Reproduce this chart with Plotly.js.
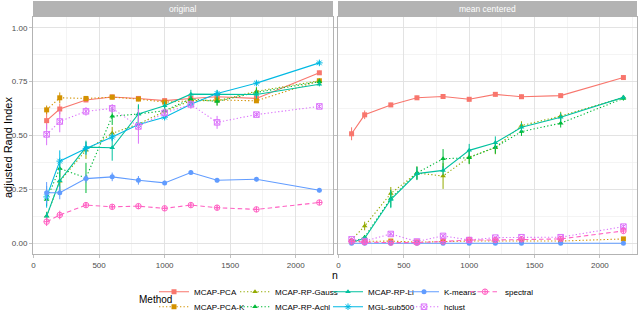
<!DOCTYPE html>
<html><head><meta charset="utf-8">
<script src="https://cdn.plot.ly/plotly-3.0.1.min.js"></script>
<style>html,body{margin:0;padding:0;background:#fff}#chart{width:640px;height:311px}</style>
</head><body><div id="chart"></div>
<script>
// ---- data ----
const n = [100, 200, 400, 600, 800, 1000, 1200, 1400, 1700, 2180];
const methods = ["MCAP-PCA","MCAP-PCA-K","MCAP-RP-Gauss","MCAP-RP-Achl","MCAP-RP-Li","MGL-sub500","K-means","hclust","spectral"];
const panels = ["original","mean centered"];

// original
const origPCA    = [0.569,0.623,0.665,0.679,0.672,0.662,0.672,0.680,0.672,0.791];
const origPCAK   = [0.619,0.675,0.672,0.678,0.669,0.655,0.661,0.665,0.661,0.754];
const origGauss  = [0.126,0.288,0.431,0.510,0.553,0.612,0.662,0.661,0.705,0.754];
const origAchl   = [0.203,0.347,0.303,0.589,0.600,0.615,0.670,0.658,0.700,0.750];
const origLi     = [0.125,0.290,0.446,0.443,0.600,0.638,0.692,0.692,0.690,0.738];
const origMGL    = [0.215,0.381,0.440,0.493,0.551,0.585,0.645,0.695,0.743,0.837];
const origKmeans = [0.234,0.234,0.300,0.308,0.292,0.280,0.328,0.292,0.297,0.246];
const origHclust = [0.505,0.565,0.612,0.626,0.542,0.605,0.644,0.561,0.597,0.635];
const origSpec   = [0.100,0.131,0.177,0.169,0.172,0.162,0.177,0.165,0.157,0.189];

const origPCAErr    = [0.04,0.025,0.01,0.01,0.01,0.01,0.01,0.01,0.01,0.01];
const origPCAKErr   = [0.02,0.025,0.01,0.01,0.01,0.01,0.01,0.01,0.01,0.01];
const origGaussErr  = [0.02,0.05,0.04,0.03,0.03,0.02,0.02,0.02,0.02,0.01];
const origAchlErr   = [0.03,0.04,0.07,0.04,0.04,0.02,0.02,0.02,0.02,0.01];
const origLiErr     = [0.02,0.05,0.03,0.06,0.045,0.02,0.02,0.02,0.02,0.01];
const origMGLErr    = [0.05,0.05,0.03,0.02,0.02,0.01,0.01,0.01,0.01,0.01];
const origKmeansErr = [0.05,0.03,0.02,0.02,0.02,0.01,0.01,0.01,0.01,0.01];
const origHclustErr = [0.05,0.05,0.02,0.02,0.08,0.02,0.02,0.03,0.01,0.01];
const origSpecErr   = [0.02,0.02,0.01,0.01,0.01,0.01,0.01,0.01,0.01,0.01];

// mean centered
const mcPCA    = [0.508,0.596,0.642,0.675,0.681,0.668,0.691,0.680,0.685,0.769];
const mcPCAK   = [0.008,0.008,0.010,0.005,0.008,0.010,0.010,0.010,0.010,0.020];
const mcGauss  = [0.015,0.080,0.231,0.326,0.312,0.400,0.443,0.546,0.590,0.677];
const mcAchl   = [0.005,0.028,0.208,0.326,0.392,0.397,0.446,0.518,0.557,0.672];
const mcLi     = [0.003,0.023,0.203,0.323,0.338,0.431,0.466,0.538,0.585,0.677];
const mcKmeans = [0.000,0.000,0.000,0.000,0.000,0.000,0.000,0.000,0.000,0.000];
const mcHclust = [0.018,0.010,0.043,0.008,0.034,0.015,0.026,0.028,0.028,0.077];
const mcSpec   = [0.008,0.005,0.003,0.003,0.008,0.015,0.015,0.018,0.020,0.057];

const mcPCAErr    = [0.03,0.02,0.01,0.01,0.01,0.01,0.01,0.01,0.01,0.01];
const mcPCAKErr   = [0.003,0.003,0.003,0.003,0.003,0.003,0.003,0.003,0.003,0.003];
const mcGaussErr  = [0.01,0.02,0.03,0.03,0.06,0.03,0.03,0.02,0.02,0.01];
const mcAchlErr   = [0.01,0.01,0.04,0.03,0.045,0.03,0.03,0.02,0.02,0.01];
const mcLiErr     = [0.005,0.01,0.04,0.03,0.02,0.03,0.03,0.02,0.02,0.01];
const mcKmeansErr = [0,0,0,0,0,0,0,0,0,0];
const mcHclustErr = [0.005,0.005,0.01,0.005,0.01,0.005,0.005,0.005,0.005,0.01];
const mcSpecErr   = [0.005,0.005,0.003,0.003,0.005,0.005,0.005,0.005,0.005,0.01];

const xTicks = [0, 500, 1000, 1500, 2000];
const yTicks = [0, 0.25, 0.5, 0.75, 1];
const yTickText = ["0.00","0.25","0.50","0.75","1.00"];

// ---- styles ----
const colors = ["#F8766D","#D39200","#93AA00","#00BA38","#00C19F","#00B9E3","#619CFF","#DB72FB","#FF61C3"];
const symbols = ["square","square","triangle-up","triangle-up","triangle-up","asterisk-open","circle","square-x-open","circle-cross-open"];
const DOT = "1.3px,2.2px", DASH = "4.5px,3px";
const dashes = ["solid",DOT,DOT,DOT,"solid","solid","solid",DOT,DASH];
// legend layout: column-major, 2 rows
const legendCol = [0,0,1,1,2,2,3,3,4];
const legendRow = [0,1,0,1,0,1,0,1,0];
const colTextX = [196, 277, 370, 446, 507];
const rowY = [291.7, 306.7];

const origData = [origPCA,origPCAK,origGauss,origAchl,origLi,origMGL,origKmeans,origHclust,origSpec];
const origErr = [origPCAErr,origPCAKErr,origGaussErr,origAchlErr,origLiErr,origMGLErr,origKmeansErr,origHclustErr,origSpecErr];
const mcData = [mcPCA,mcPCAK,mcGauss,mcAchl,mcLi,null,mcKmeans,mcHclust,mcSpec];
const mcErr = [mcPCAErr,mcPCAKErr,mcGaussErr,mcAchlErr,mcLiErr,null,mcKmeansErr,mcHclustErr,mcSpecErr];

const W = 640, H = 311, ML = 33, MR = 3, MT = 17, MB = 57;
const PW = W - ML - MR, PH = H - MT - MB;
const px2x = p => (p - ML) / PW;
const px2y = p => (H - MB - p) / PH;

function mk(i, ys, errs, xa, ya, show) {
  const open = symbols[i].endsWith("open");
  return {
    type: "scatter", mode: "lines+markers", name: methods[i],
    x: n, y: ys, xaxis: xa, yaxis: ya,
    showlegend: show, legend: i === 0 ? "legend" : "legend" + (i + 1),
    line: {color: colors[i], width: 1.1, dash: dashes[i]},
    marker: {color: colors[i], symbol: symbols[i], size: open ? 5.5 : 5,
             line: {color: colors[i], width: open ? 1 : 0}},
    error_y: {type: "data", array: errs, visible: true, color: colors[i], thickness: 1, width: 0},
    hoverinfo: "x+y+name"
  };
}

const traces = [];
for (let i = 0; i < methods.length; i++) {
  traces.push(mk(i, origData[i], origErr[i], "x", "y", true));
}
for (let i = 0; i < methods.length; i++) {
  if (mcData[i]) traces.push(mk(i, mcData[i], mcErr[i], "x2", "y2", false));
}

const gridC = "#E0E0E0", minorC = "#EDEDED", borderC = "#B3B3B3";
const tickFont = {size: 8, color: "#4D4D4D"};
function xax(dom, anchor) {
  return {domain: dom, anchor: anchor, range: [-4, 2284], tickvals: xTicks, ticktext: xTicks.map(String),
    showgrid: true, gridcolor: gridC, gridwidth: 0.9, zeroline: false,
    minor: {tickvals: [250, 750, 1250, 1750, 2250], showgrid: true, gridcolor: minorC, gridwidth: 0.6, ticks: ""},
    showline: true, mirror: true, linecolor: borderC, linewidth: 1,
    ticks: "outside", ticklen: 3, tickcolor: borderC, tickwidth: 0.8, tickfont: tickFont};
}
function yax(anchor, labels) {
  return {domain: [0, 1], anchor: anchor, range: [-0.05, 1.05], tickvals: yTicks, ticktext: yTickText,
    showticklabels: labels, showgrid: true, gridcolor: gridC, gridwidth: 0.9, zeroline: false,
    minor: {tickvals: [0.125, 0.375, 0.625, 0.875], showgrid: true, gridcolor: minorC, gridwidth: 0.6, ticks: ""},
    showline: true, mirror: true, linecolor: borderC, linewidth: 1,
    ticks: "outside", ticklen: 3, tickcolor: borderC, tickwidth: 0.8, tickfont: tickFont};
}

const leftDom = [0, px2x(333)], rightDom = [px2x(338), 1];
const layout = {
  width: W, height: H, margin: {l: ML, r: MR, t: MT, b: MB, autoexpand: false},
  paper_bgcolor: "#fff", plot_bgcolor: "#fff",
  font: {family: "Liberation Sans, Arial, sans-serif", size: 8, color: "#000"},
  xaxis: xax(leftDom, "y"), yaxis: yax("x", true),
  xaxis2: xax(rightDom, "y2"), yaxis2: yax("x2", false),
  shapes: [
    {type: "rect", xref: "paper", yref: "paper", x0: leftDom[0], x1: leftDom[1], y0: px2y(17), y1: px2y(1), fillcolor: "#B3B3B3", line: {width: 0}},
    {type: "rect", xref: "paper", yref: "paper", x0: rightDom[0], x1: rightDom[1], y0: px2y(17), y1: px2y(1), fillcolor: "#B3B3B3", line: {width: 0}}
  ],
  annotations: [
    {text: panels[0], xref: "paper", yref: "paper", x: (leftDom[0] + leftDom[1]) / 2, y: px2y(9), xanchor: "center", yanchor: "middle", showarrow: false, font: {size: 8.5, color: "#fff"}},
    {text: panels[1], xref: "paper", yref: "paper", x: (rightDom[0] + rightDom[1]) / 2, y: px2y(9), xanchor: "center", yanchor: "middle", showarrow: false, font: {size: 8.5, color: "#fff"}},
    {text: "adjusted Rand Index", xref: "paper", yref: "paper", x: px2x(8), y: px2y(148), xanchor: "center", yanchor: "middle", textangle: -90, showarrow: false, font: {size: 11}},
    {text: "n", xref: "paper", yref: "paper", x: px2x(335), y: px2y(275), xanchor: "center", yanchor: "middle", showarrow: false, font: {size: 10.5}},
    {text: "Method", xref: "paper", yref: "paper", x: px2x(137), xanchor: "left", y: px2y(299), yanchor: "middle", showarrow: false, font: {size: 10}}
  ]
};
for (let i = 0; i < methods.length; i++) {
  const key = i === 0 ? "legend" : "legend" + (i + 1);
  layout[key] = {
    x: px2x(colTextX[legendCol[i]] - 42), xanchor: "left",
    y: px2y(rowY[legendRow[i]]), yanchor: "middle",
    bgcolor: "rgba(0,0,0,0)", borderwidth: 0, font: {size: 8, color: "#000"},
    itemwidth: 30, tracegroupgap: 0, orientation: "v"
  };
}

Plotly.newPlot("chart", traces, layout, {staticPlot: true, displayModeBar: false});
</script></body></html>
